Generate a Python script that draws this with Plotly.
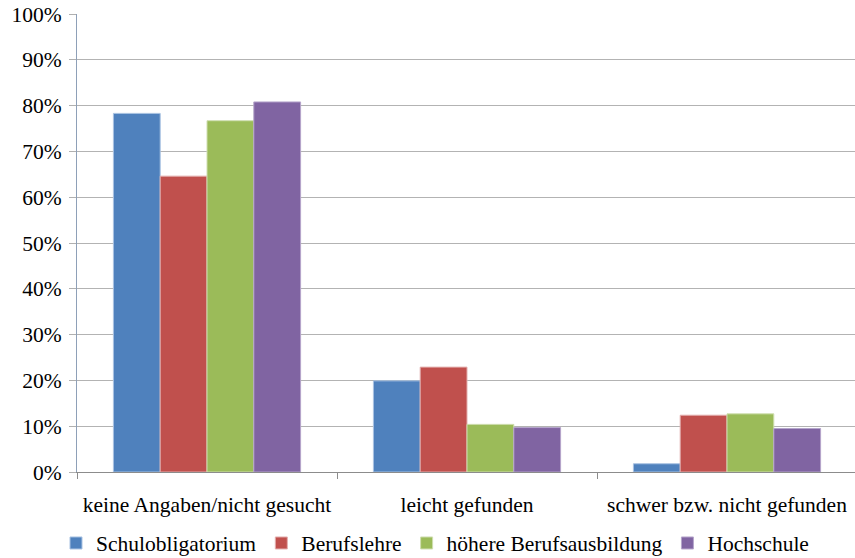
import plotly.graph_objects as go

categories = ["keine Angaben/nicht gesucht", "leicht gefunden", "schwer bzw. nicht gefunden"]
series_names = ["Schulobligatorium", "Berufslehre", "höhere Berufsausbildung", "Hochschule"]
schulobligatorium = [0.783, 0.199, 0.018]
berufslehre = [0.646, 0.229, 0.124]
hoehere = [0.767, 0.104, 0.127]
hochschule = [0.808, 0.097, 0.095]
colors = ["#4F81BD", "#C0504D", "#9BBB59", "#8064A2"]
edge_colors = ["#A9C2E2", "#E3AFAE", "#CFDEB0", "#B5A5CB"]
y_ticks = [i / 10 for i in range(11)]

fig = go.Figure()
for name, vals, col, ec in zip(series_names, [schulobligatorium, berufslehre, hoehere, hochschule],
                               colors, edge_colors):
    fig.add_trace(go.Bar(x=categories, y=vals, name=name,
                         marker=dict(color=col, line=dict(width=1, color=ec))))

font = "Liberation Serif"
fig.update_layout(
    width=855, height=558,
    margin=dict(l=77, r=0, t=14, b=86),
    paper_bgcolor="white", plot_bgcolor="white",
    barmode="group", bargap=0.28, bargroupgap=0,
    font=dict(family=font, size=21.5, color="black"),
    showlegend=True,
    legend=dict(orientation="h", xref="container", yref="container",
                x=56 / 855, xanchor="left", y=(558 - 543) / 558, yanchor="middle",
                font=dict(family=font, size=21.5), itemwidth=30, tracegroupgap=0,
                bgcolor="rgba(0,0,0,0)"),
    xaxis=dict(type="category", range=[-0.5, 2.4923], showline=True, linecolor="#8c8c8c", linewidth=1,
               ticks="outside", tickson="boundaries", ticklen=6, tickcolor="#8c8c8c",
               showgrid=False, ticklabelstandoff=13, automargin=False),
    yaxis=dict(range=[0, 1], tickvals=y_ticks, tickformat=".0%", showline=True, linecolor="#8EA0B8",
               linewidth=1, ticks="outside", ticklen=7, tickcolor="#b0b0b0", showgrid=True,
               gridcolor="#b3b3b3", gridwidth=1, zeroline=False, ticklabelstandoff=3, automargin=False),
)
fig.write_html("out.html", post_script="document.body.style.margin='0';",
               config={"displayModeBar": False})
